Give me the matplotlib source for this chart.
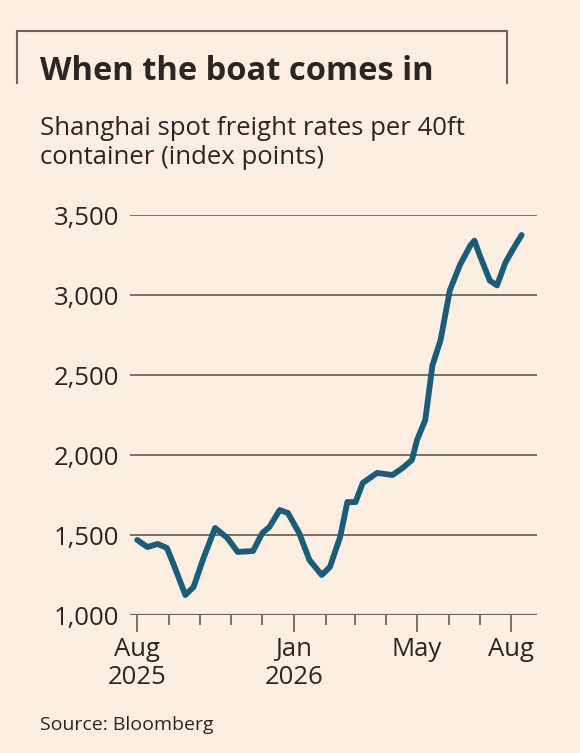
import datetime as dt
import matplotlib.pyplot as plt

# approx. reading of the weekly index (days since 1 Aug 2025, value)
days = [0, 10, 20, 29, 35, 47, 55, 64, 76, 88, 98, 113, 122, 129, 139, 147,
        158, 168, 180, 188, 198, 205, 213, 220, 234, 249, 259, 268, 273,
        281, 288, 296, 305, 315, 325, 329, 334, 344, 351, 359, 366, 375]
values = [1469, 1425, 1444, 1419, 1325, 1125, 1175, 1344, 1544, 1481, 1394,
          1400, 1512, 1550, 1656, 1638, 1512, 1344, 1250, 1300, 1488, 1706,
          1706, 1825, 1888, 1875, 1919, 1969, 2094, 2219, 2560, 2720, 3030,
          3190, 3310, 3340, 3250, 3090, 3060, 3200, 3280, 3375]
yticks = [1000, 1500, 2000, 2500, 3000, 3500]

start = dt.date(2025, 8, 1)
dates = [start + dt.timedelta(days=d) for d in days]

bg = '#fdeee2'
ink = '#2b2523'
grid = '#6e6560'

plt.rcParams['font.family'] = ['Open Sans', 'DejaVu Sans']
fig = plt.figure(figsize=(5.8, 7.53), dpi=100, facecolor=bg)

# frame at top
fig.add_artist(plt.Line2D([17/580, 507/580], [1-31/753, 1-31/753], color=grid, lw=1.5))
fig.add_artist(plt.Line2D([17/580, 17/580], [1-31/753, 1-83/753], color=grid, lw=1.5))
fig.add_artist(plt.Line2D([507/580, 507/580], [1-31/753, 1-83/753], color=grid, lw=1.5))

fig.text(40/580, 1-72/753, 'When the boat comes in', fontsize=23.5, fontweight='bold',
         color=ink, va='center')
fig.text(40/580, 1-143/753, 'Shanghai spot freight rates per 40ft\ncontainer (index points)',
         fontsize=18.5, color=ink, va='center', linespacing=1.25)
fig.text(40/580, 1-725/753, 'Source: Bloomberg', fontsize=14, color=ink, va='center')

ax = fig.add_axes([130/580, 1-615/753, 407/580, 400/753])
ax.set_facecolor(bg)
ax.plot(dates, values, color='#1b5c78', lw=4.2, solid_capstyle='round', zorder=3)

ax.set_ylim(1000, 3500)
ax.set_yticks(yticks)
ax.set_yticklabels([f'{v:,}' for v in yticks])
ax.set_xlim(start - dt.timedelta(days=7), start + dt.timedelta(days=390))
ax.grid(axis='y', color=grid, lw=1.3)
for s in ax.spines.values():
    s.set_visible(False)
ax.axhline(1000, color=grid, lw=1.6, zorder=2)

months = [dt.date(2025 + (7 + i) // 12, (7 + i) % 12 + 1, 1) for i in range(13)]
ax.set_xticks(months, minor=True)
ax.set_xticks([dt.date(2025, 8, 1), dt.date(2026, 1, 1), dt.date(2026, 5, 1), dt.date(2026, 8, 1)])
ax.set_xticklabels(['Aug\n2025', 'Jan\n2026', 'May', 'Aug'])
ax.tick_params(axis='x', which='minor', length=7, width=1.3, color=grid)
ax.tick_params(axis='x', which='major', length=12, width=1.3, color=grid, labelsize=18.5,
               labelcolor=ink, pad=4)
ax.tick_params(axis='y', length=0, labelsize=18.5, labelcolor=ink, pad=8)
for lbl in ax.get_xticklabels():
    lbl.set_linespacing(1.15)
    lbl.set_verticalalignment('top')

fig.savefig('out.png', dpi=100, facecolor=bg)
